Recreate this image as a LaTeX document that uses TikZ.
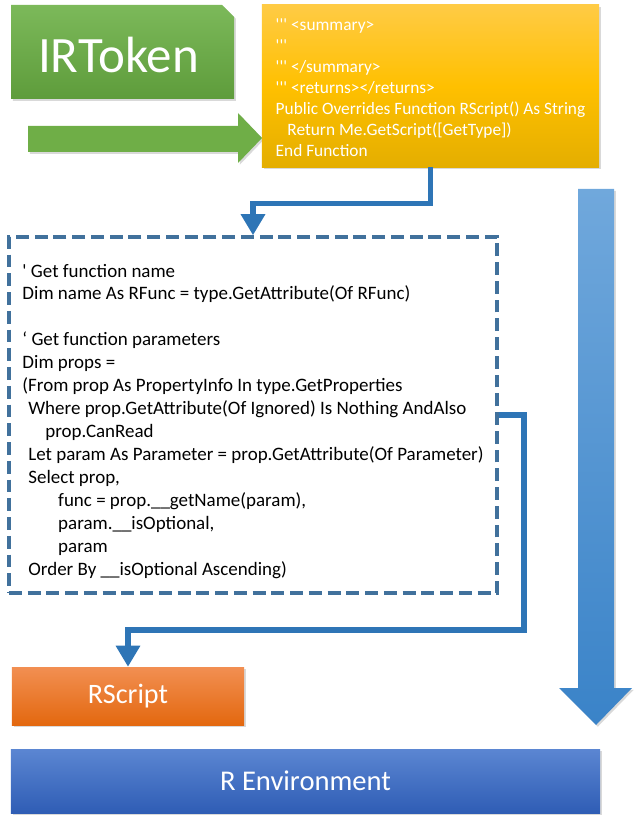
\documentclass[tikz,border=0pt]{standalone}
\usepackage{fontspec}
\newfontfamily\slidefont{Carlito}
\usetikzlibrary{arrows.meta,shadows}

\definecolor{greentop}{HTML}{7CB95A}
\definecolor{greenbot}{HTML}{5E9C3B}
\definecolor{arrowgreen}{HTML}{6FAE47}
\definecolor{goldtop}{HTML}{FFCB45}
\definecolor{goldmid}{HTML}{FFC000}
\definecolor{goldbot}{HTML}{E4AE00}
\definecolor{dashblue}{HTML}{41719C}
\definecolor{linkblue}{HTML}{2E75B6}
\definecolor{skytop}{HTML}{70A8DC}
\definecolor{skybot}{HTML}{3A83C8}
\definecolor{orangetop}{HTML}{F28F52}
\definecolor{orangebot}{HTML}{E3680F}
\definecolor{envtop}{HTML}{5B86D2}
\definecolor{envbot}{HTML}{2F5DB5}

\begin{document}
\begin{tikzpicture}[x=0.03cm,y=-0.03cm,font=\slidefont,
    softshadow/.style={drop shadow={opacity=0.3,shadow xshift=1.5pt,shadow yshift=-1.5pt}},
    slidebox/.style={inner sep=0pt,text=white,softshadow},
    link/.style={draw=linkblue,line width=4.3pt,-{Triangle[length=18pt,width=20pt]}}]
  \useasboundingbox (0,0) rectangle (639,825);
  \shade[top color=greentop,bottom color=greenbot,softshadow]
    (11,5) -- (222,5) -- (234,17) -- (234,99) -- (11,99) -- cycle;
  \node[anchor=base,text=white,font=\slidefont\fontsize{43.5}{52}\selectfont] (token) at (118.5,73) {IRToken};
  \fill[arrowgreen,softshadow] (28,126) -- (238,126) -- (238,113) -- (262,138)
    -- (238,163) -- (238,152) -- (28,152) -- cycle;
  \shade[top color=skytop,bottom color=skybot,softshadow]
    (578,189) -- (614,189) -- (614,688) -- (632,688) -- (596,725)
    -- (559,688) -- (578,688) -- cycle;

  \node[slidebox,minimum width=10.11cm,minimum height=4.86cm,
    top color=goldtop,bottom color=goldbot,middle color=goldmid,
    align=left,font=\slidefont\fontsize{14.8}{17.9}\selectfont] (doc) at (430.5,86)
    {\rule{0pt}{13.2pt}''' <summary>\\
     '''\\
     ''' </summary>\\
     ''' <returns></returns>\\
     Public Overrides Function RScript() As String\\
     \hspace*{10pt}Return Me.GetScript([GetType])\\
     End Function};

  \node[minimum width=14.64cm,minimum height=10.68cm,inner sep=0pt,draw=dashblue,line width=3pt,
    dash pattern=on 11pt off 5pt,fill=white,align=left,
    font=\slidefont\fontsize{16.2}{19.6}\selectfont] (reflect) at (253,415)
    {\rule{0pt}{22pt}' Get function name\\
     Dim name As RFunc = type.GetAttribute(Of RFunc)\\
     \mbox{}\\
     ‘ Get function parameters\\
     Dim props =\\
     (From prop As PropertyInfo In type.GetProperties\\
     \hspace*{5pt}Where prop.GetAttribute(Of Ignored) Is Nothing AndAlso\\
     \hspace*{19.5pt}prop.CanRead\\
     \hspace*{5pt}Let param As Parameter = prop.GetAttribute(Of Parameter)\\
     \hspace*{5pt}Select prop,\\
     \hspace*{30.5pt}func = prop.\_\_getName(param),\\
     \hspace*{30.5pt}param.\_\_isOptional,\\
     \hspace*{30.5pt}param\\
     \hspace*{5pt}Order By \_\_isOptional Ascending)};

  \node[slidebox,minimum width=6.96cm,minimum height=1.74cm,top color=orangetop,bottom color=orangebot,
    font=\slidefont\fontsize{24}{29}\selectfont] (rscript) at (128,696) {RScript};
  \node[slidebox,minimum width=17.67cm,minimum height=1.92cm,top color=envtop,bottom color=envbot,
    font=\slidefont\fontsize{24.4}{29}\selectfont] (renv) at (305.5,781) {R Environment};

  \draw[link] (doc.south) -- ++(0,36) -| (reflect.north);
  \coordinate (bend) at (524,630);
  \draw[link] (reflect.east) -| (bend) -| (rscript.north);
\end{tikzpicture}
\end{document}
